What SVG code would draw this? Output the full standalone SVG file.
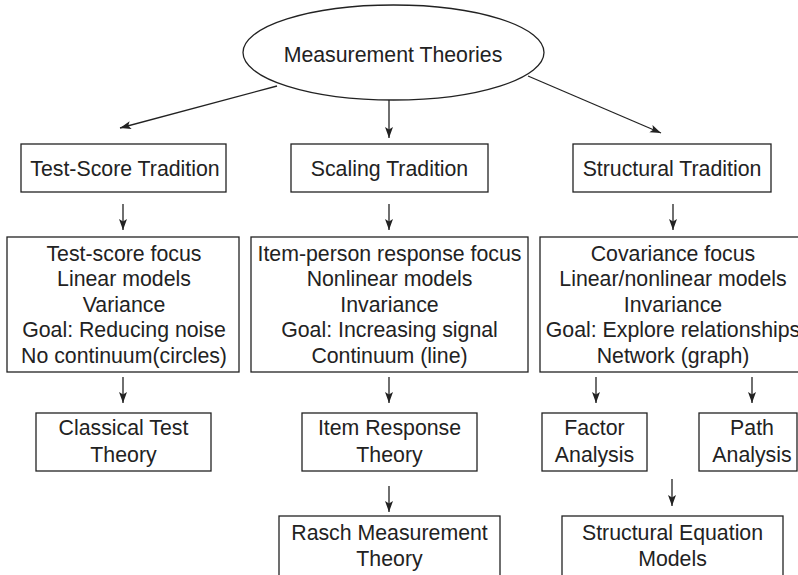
<svg xmlns="http://www.w3.org/2000/svg" width="798" height="575" viewBox="0 0 798 575">
<style>
.box{fill:#fff;stroke:#222;stroke-width:1.3}
.t{font-family:"Liberation Sans",Arial,sans-serif;font-size:21.3px;fill:#222;text-anchor:middle}
.c{stroke:#222;stroke-width:1.3;fill:none}
</style>
<defs>
<marker id="ah" viewBox="0 0 11 10" refX="11" refY="5" markerWidth="11" markerHeight="10" markerUnits="userSpaceOnUse" orient="auto">
<path d="M0,1 L11,5 L0,9 L2.5,5 Z" fill="#222"/>
</marker>
</defs>
<rect width="798" height="575" fill="#fff"/>
<g id="connectors">
<line class="c" x1="277" y1="86" x2="120" y2="128" marker-end="url(#ah)"/>
<line class="c" x1="389" y1="100" x2="389" y2="138" marker-end="url(#ah)"/>
<line class="c" x1="528" y1="76" x2="661" y2="133" marker-end="url(#ah)"/>
<line class="c" x1="123" y1="204" x2="123" y2="230" marker-end="url(#ah)"/>
<line class="c" x1="389" y1="204" x2="389" y2="230" marker-end="url(#ah)"/>
<line class="c" x1="673" y1="204" x2="673" y2="230" marker-end="url(#ah)"/>
<line class="c" x1="123" y1="377" x2="123" y2="403" marker-end="url(#ah)"/>
<line class="c" x1="389" y1="377" x2="389" y2="403" marker-end="url(#ah)"/>
<line class="c" x1="596" y1="377" x2="596" y2="403" marker-end="url(#ah)"/>
<line class="c" x1="752" y1="377" x2="752" y2="403" marker-end="url(#ah)"/>
<line class="c" x1="389" y1="486" x2="389" y2="512" marker-end="url(#ah)"/>
<line class="c" x1="672" y1="479" x2="672" y2="506" marker-end="url(#ah)"/>
</g>
<g id="root">
<ellipse class="box" cx="393.5" cy="52.5" rx="150.5" ry="47.5"/>
<text class="t" x="393" y="62">Measurement Theories</text>
</g>
<g id="test-score">
<rect class="box" x="21" y="144" width="205" height="48"/>
<text class="t" x="125" y="176">Test-Score Tradition</text>
</g>
<g id="scaling">
<rect class="box" x="291" y="144" width="197" height="48"/>
<text class="t" x="389.5" y="176">Scaling Tradition</text>
</g>
<g id="structural">
<rect class="box" x="573" y="144" width="198" height="48"/>
<text class="t" x="672" y="176">Structural Tradition</text>
</g>
<g id="test-score-detail">
<rect class="box" x="7" y="237" width="232" height="135"/>
<text class="t" x="124" y="260.5">Test-score focus</text>
<text class="t" x="124" y="286">Linear models</text>
<text class="t" x="124" y="311.7">Variance</text>
<text class="t" x="124" y="337.3">Goal: Reducing noise</text>
<text class="t" x="124" y="363">No continuum(circles)</text>
</g>
<g id="scaling-detail">
<rect class="box" x="251" y="237" width="277" height="135"/>
<text class="t" x="389.5" y="260.5">Item-person response focus</text>
<text class="t" x="389.5" y="286">Nonlinear models</text>
<text class="t" x="389.5" y="311.7">Invariance</text>
<text class="t" x="389.5" y="337.3">Goal: Increasing signal</text>
<text class="t" x="389.5" y="363">Continuum (line)</text>
</g>
<g id="structural-detail">
<rect class="box" x="540" y="237" width="266" height="135"/>
<text class="t" x="673" y="260.5">Covariance focus</text>
<text class="t" x="673" y="286">Linear/nonlinear models</text>
<text class="t" x="673" y="311.7">Invariance</text>
<text class="t" x="673" y="337.3">Goal: Explore relationships</text>
<text class="t" x="673" y="363">Network (graph)</text>
</g>
<g id="ctt">
<rect class="box" x="36" y="413" width="175" height="58"/>
<text class="t" x="123.5" y="435">Classical Test</text>
<text class="t" x="123.5" y="462">Theory</text>
</g>
<g id="irt">
<rect class="box" x="302" y="413" width="175" height="58"/>
<text class="t" x="389.5" y="435">Item Response</text>
<text class="t" x="389.5" y="462">Theory</text>
</g>
<g id="factor">
<rect class="box" x="542" y="413" width="105" height="58"/>
<text class="t" x="594.5" y="435">Factor</text>
<text class="t" x="594.5" y="462">Analysis</text>
</g>
<g id="path">
<rect class="box" x="699" y="413" width="98" height="58"/>
<text class="t" x="752" y="435">Path</text>
<text class="t" x="752" y="462">Analysis</text>
</g>
<g id="rasch">
<rect class="box" x="279" y="516" width="221" height="70"/>
<text class="t" x="389.5" y="540">Rasch Measurement</text>
<text class="t" x="389.5" y="566">Theory</text>
</g>
<g id="sem">
<rect class="box" x="562" y="516" width="221" height="70"/>
<text class="t" x="672.5" y="540">Structural Equation</text>
<text class="t" x="672.5" y="566">Models</text>
</g>
</svg>
